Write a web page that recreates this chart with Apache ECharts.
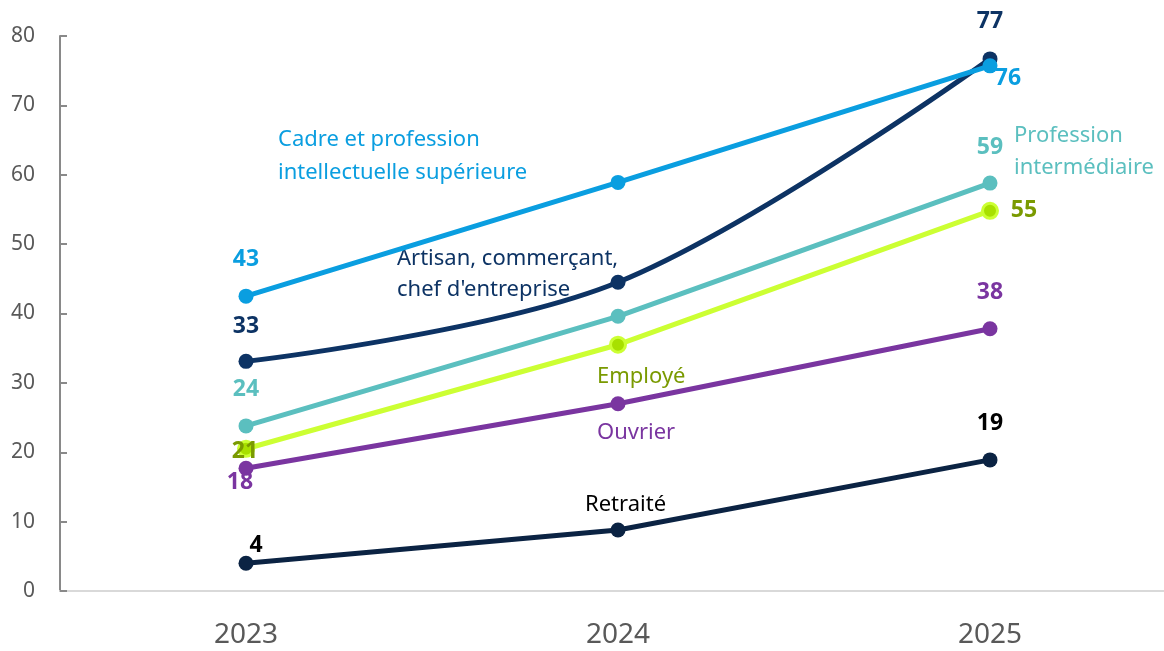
<!DOCTYPE html>
<html>
<head>
<meta charset="utf-8">
<script src="https://cdn.jsdelivr.net/npm/echarts@6/dist/echarts.min.js"></script>
<style>
  html, body { margin: 0; padding: 0; background: #fff; }
  #main { width: 1164px; height: 651px; }
</style>
</head>
<body>
<div id="main"></div>
<script>
// categories and values
var years = ['2023', '2024', '2025'];
var cadre = [42.5, 58.9, 75.7];
var artisan = [33.1, 44.5, 76.7];
var intermediaire = [23.8, 39.6, 58.8];
var employe = [20.5, 35.5, 54.8];
var ouvrier = [17.7, 27.0, 37.8];
var retraite = [4.0, 8.8, 18.9];
// numbers printed on the chart
var cadreLabels = ['43', '', '76'];
var artisanLabels = ['33', '', '77'];
var intermediaireLabels = ['24', '', '59'];
var employeLabels = ['21', '', '55'];
var ouvrierLabels = ['18', '', '38'];
var retraiteLabels = ['4', '', '19'];

var FONT = 'Noto Sans';

function pts(values, labels, color, offsets) {
    return values.map(function(v, i) {
        var item = { value: v };
        if (labels[i]) {
            item.label = {
                show: true,
                formatter: labels[i],
                position: 'inside',
                offset: offsets[i],
                color: color,
                fontFamily: FONT,
                fontWeight: 'bold',
                fontSize: 23
            };
        }
        return item;
    });
}

function line(name, values, color, labels, labelColor, offsets, extra) {
    var s = {
        name: name,
        type: 'line',
        data: pts(values, labels, labelColor, offsets),
        symbol: 'circle',
        symbolSize: 15,
        lineStyle: { color: color, width: 5 },
        itemStyle: { color: color },
        label: { show: false },
        emphasis: { disabled: true },
        z: 2
    };
    for (var k in extra) s[k] = extra[k];
    return s;
}

var chart = echarts.init(document.getElementById('main'));
chart.setOption({
    animation: false,
    grid: { left: 60, right: -12, top: 36, bottom: 60, outerBoundsMode: 'none', containLabel: false },
    xAxis: {
        type: 'category',
        data: years,
        boundaryGap: true,
        axisLine: { show: true, lineStyle: { color: '#d9d9d9', width: 2 } },
        axisTick: { show: false },
        axisLabel: { color: '#595959', fontSize: 28, fontFamily: FONT, margin: 30 }
    },
    yAxis: {
        type: 'value',
        min: 0, max: 80, interval: 10,
        splitLine: { show: false },
        axisLine: { show: true, lineStyle: { color: '#898989', width: 2 } },
        axisTick: { show: true, inside: true, length: 7, lineStyle: { color: '#898989', width: 2 } },
        axisLabel: { color: '#595959', fontSize: 21, fontFamily: FONT, margin: 25 }
    },
    series: [
        line('Retraité', retraite, '#0b2343', retraiteLabels, '#000000',
             [[10, -18], null, [0, -36]], {}),
        line('Ouvrier', ouvrier, '#7a35a0', ouvrierLabels, '#7a35a0',
             [[-6, 14], null, [0, -36]], {}),
        line('Employé', employe, '#ccff33', employeLabels, '#7a9a01',
             [[-1, 3], null, [34, 0]],
             { itemStyle: { color: '#a8e000', borderColor: '#ccff33', borderWidth: 3 } }),
        line('Profession intermédiaire', intermediaire, '#5bbfbf', intermediaireLabels, '#5bbfbf',
             [[0, -36], null, [0, -36]], {}),
        line('Artisan, commerçant, chef d\'entreprise', artisan, '#0d3364', artisanLabels, '#0d3364',
             [[0, -35], null, [0, -37]], { smooth: 0.35 }),
        line('Cadre et profession intellectuelle supérieure', cadre, '#0a9ee0', cadreLabels, '#0a9ee0',
             [[0, -37], null, [18, 13]], {})
    ],
    graphic: [
        { type: 'text', left: 278, top: 123, style: { text: 'Cadre et profession\nintellectuelle supérieure', fill: '#0a9ee0', font: '22px "Noto Sans"', lineHeight: 33 } },
        { type: 'text', left: 397, top: 243, style: { text: 'Artisan, commerçant,\nchef d\'entreprise', fill: '#0d3364', font: '22px "Noto Sans"', lineHeight: 31 } },
        { type: 'text', left: 1014, top: 120, style: { text: 'Profession\nintermédiaire', fill: '#5bbfbf', font: '22px "Noto Sans"', lineHeight: 32 } },
        { type: 'text', left: 597, top: 366, style: { text: 'Employé', fill: '#7a9a01', font: '22px "Noto Sans"' } },
        { type: 'text', left: 597, top: 422, style: { text: 'Ouvrier', fill: '#7a35a0', font: '22px "Noto Sans"' } },
        { type: 'text', left: 585, top: 494, style: { text: 'Retraité', fill: '#000000', font: '22px "Noto Sans"' } }
    ]
});
</script>
</body>
</html>
